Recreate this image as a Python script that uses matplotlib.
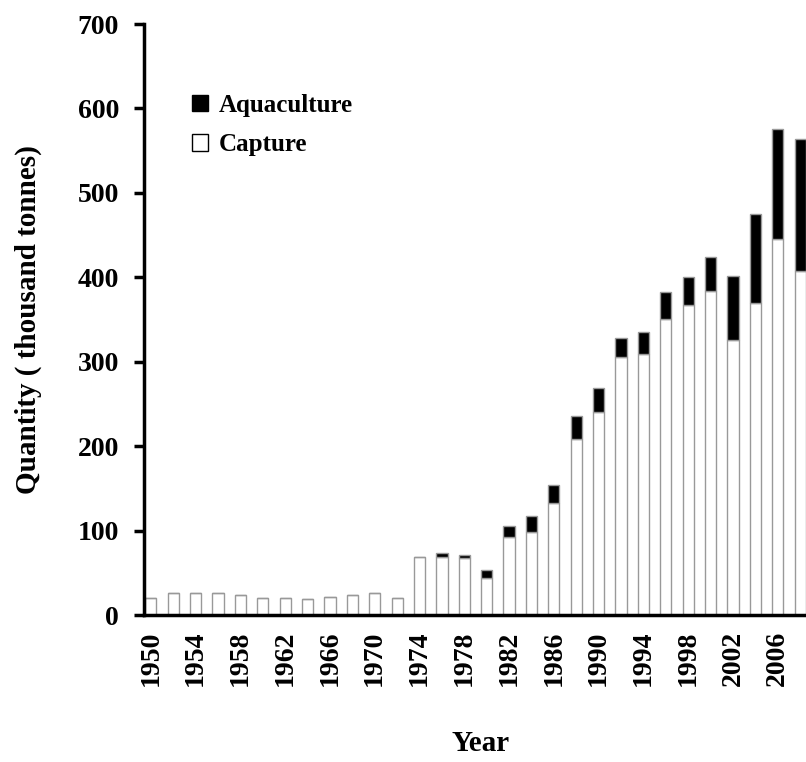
import numpy as np
import matplotlib
matplotlib.use('Agg')
import matplotlib.pyplot as plt
import matplotlib.patches as mpatches

# data: quantity in thousand tonnes, every second year
years = np.arange(1950, 2009, 2)
capture = [20.5, 25.7, 25.7, 25.7, 23.7, 20.5, 20.5, 18.6, 21.7, 23.7,
           25.7, 20.5, 69, 69, 67, 43.4, 92.8, 98.7, 132.3, 208.1,
           240.8, 305.2, 308.8, 350.6, 367.2, 383.7, 325.7, 369.2, 445.7, 407]
total = [20.5, 25.7, 25.7, 25.7, 23.7, 20.5, 20.5, 18.6, 21.7, 23.7,
         25.7, 20.5, 69, 73, 71, 53.3, 105.8, 117.3, 153.6, 235.7,
         268.5, 327.7, 334.8, 382.6, 400.3, 424.4, 401.9, 475.3, 576, 563.4]
aquaculture = np.array(total) - np.array(capture)
tick_years = np.arange(1950, 2007, 4)

plt.rcParams['font.family'] = ['Liberation Serif', 'DejaVu Serif']
plt.rcParams['font.weight'] = 'bold'

fig = plt.figure(figsize=(8.06, 7.62), dpi=100)
ax = fig.add_axes([0.1787, 0.1929, 0.835, 0.7756])

ax.bar(years, capture, width=1.0, color='white', edgecolor='#999999', linewidth=1)
ax.bar(years, aquaculture, bottom=capture, width=1.0, color='black',
       edgecolor='#999999', linewidth=1)

ax.set_xlim(1949.4, 2009.5)
ax.set_ylim(0, 700)
ax.set_yticks(np.arange(0, 701, 100))
ax.set_xticks(tick_years)
ax.set_xticklabels([str(y) for y in tick_years], rotation=90, fontsize=20, fontweight='bold')
for lab in ax.get_yticklabels():
    lab.set_fontsize(20)
    lab.set_fontweight('bold')

for s in ['top', 'right']:
    ax.spines[s].set_visible(False)
for s in ['left', 'bottom']:
    ax.spines[s].set_linewidth(2.5)
ax.tick_params(axis='y', length=7, width=2.5, pad=11)
ax.tick_params(axis='x', length=0, pad=11)

ax.set_ylabel('Quantity ( thousand tonnes)', fontsize=21, fontweight='bold', labelpad=26)
ax.set_xlabel('Year', fontsize=21, fontweight='bold', labelpad=32)

black_patch = mpatches.Patch(facecolor='black', edgecolor='black', label='Aquaculture')
white_patch = mpatches.Patch(facecolor='white', edgecolor='black', label='Capture')
fig.legend(handles=[black_patch, white_patch], loc='upper left',
           bbox_to_anchor=(0.223, 0.893), frameon=False, handlelength=0.62,
           handleheight=0.62, handletextpad=0.45, borderpad=0, labelspacing=0.65,
           prop={'size': 18, 'weight': 'bold'})

plt.savefig('out.png', dpi=100)
